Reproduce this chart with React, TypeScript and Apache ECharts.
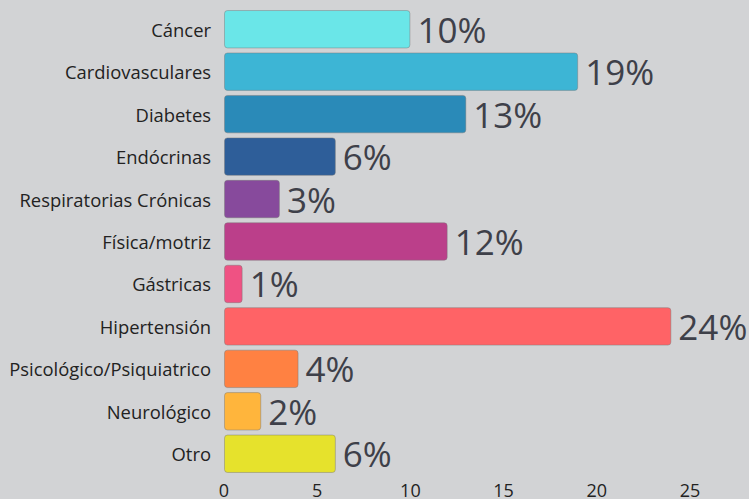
import React, { useEffect, useRef } from "react";
import * as echarts from "echarts";

const categories = [
  "Cáncer",
  "Cardiovasculares",
  "Diabetes",
  "Endócrinas",
  "Respiratorias Crónicas",
  "Física/motriz",
  "Gástricas",
  "Hipertensión",
  "Psicológico/Psiquiatrico",
  "Neurológico",
  "Otro",
];
const values = [10, 19, 13, 6, 3, 12, 1, 24, 4, 2, 6];
const colors = [
  "#6ae6e8",
  "#3db5d5",
  "#2a8ab8",
  "#2e5e99",
  "#874a9c",
  "#bb3f8a",
  "#ef5283",
  "#ff6366",
  "#ff8142",
  "#ffb53c",
  "#e6e22c",
];
const xTicks = [0, 5, 10, 15, 20, 25];

export default function App() {
  const ref = useRef<HTMLDivElement>(null);
  useEffect(() => {
    document.body.style.margin = "0";
    const chart = echarts.init(ref.current!, null, { renderer: "svg" });
    chart.setOption({
      animation: false,
      backgroundColor: "#d2d3d5",
      textStyle: { fontFamily: "Open Sans" },
      grid: { left: 224, right: 59, top: 8, bottom: 21, containLabel: false },
      xAxis: {
        type: "value",
        min: xTicks[0],
        max: xTicks[xTicks.length - 1],
        interval: 5,
        axisLine: { show: false },
        axisTick: { show: false },
        splitLine: { show: false },
        axisLabel: {
          color: "#222",
          fontSize: 18,
          fontFamily: "Open Sans",
          margin: 6,
        },
      },
      yAxis: {
        type: "category",
        inverse: true,
        data: categories,
        axisLine: { show: false },
        axisTick: { show: false },
        axisLabel: {
          color: "#222",
          fontSize: 18.4,
          fontFamily: "Open Sans",
          margin: 13,
        },
      },
      series: [
        {
          type: "bar",
          barCategoryGap: "9.5%",
          data: values.map((v, i) => ({
            value: v,
            itemStyle: {
              color: colors[i],
              borderColor: "rgba(120,120,120,0.45)",
              borderWidth: 1,
              borderRadius: 3,
            },
          })),
          label: {
            show: true,
            position: "right",
            distance: 7,
            formatter: "{c}%",
            color: "#3e4049",
            fontSize: 35,
            fontFamily: "Open Sans",
          },
        },
      ],
    });
    return () => chart.dispose();
  }, []);
  return (
    <div
      ref={ref}
      style={{ position: "absolute", left: 0, top: 0, width: 749, height: 499 }}
    />
  );
}
